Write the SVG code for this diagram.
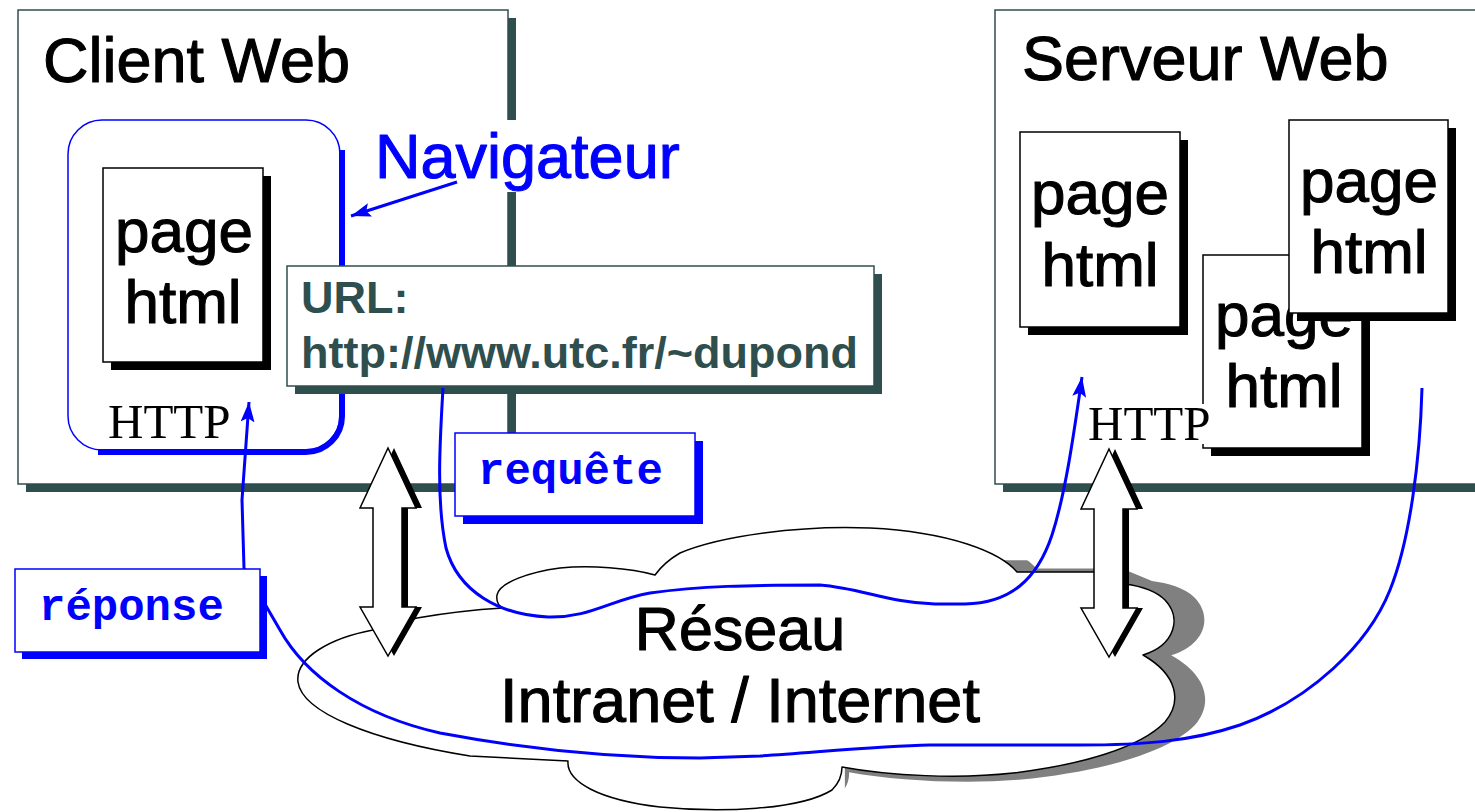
<svg xmlns="http://www.w3.org/2000/svg" width="1475" height="812" viewBox="0 0 1475 812">
  <defs>
    <style>
      .sans { font-family: "Liberation Sans", Arial, sans-serif; }
      .heavy { stroke-width: 1.1; stroke-linejoin: round; }
      .title { font-size: 63px; fill: #000; stroke: #000; }
      .page-txt { font-size: 62px; fill: #000; stroke: #000; text-anchor: middle; }
      .frame { fill: #fff; stroke: #2f4f4f; stroke-width: 1.5; }
      .frame-shadow { fill: #2f4f4f; }
      .page { fill: #fff; stroke: #000; stroke-width: 1.5; }
      .page-shadow { fill: #000; }
      .tag { fill: #fff; stroke: #0000ff; stroke-width: 1.5; }
      .tag-shadow { fill: #0000ff; }
      .tag-txt { font-family: "Liberation Mono", "Courier New", monospace; font-weight: bold; font-size: 44px; fill: #0000ff; }
      .http { font-family: "Liberation Serif", "Times New Roman", serif; font-size: 49px; fill: #000; }
      .flow { fill: none; stroke: #0000ff; stroke-width: 3; }
      .cloud { fill: #fff; stroke: #000; stroke-width: 1.5; stroke-linejoin: round; }
      .dbl { fill: #fff; stroke: #000; stroke-width: 1.5; stroke-linejoin: miter; }
    </style>
    <marker id="head" markerUnits="userSpaceOnUse" markerWidth="24" markerHeight="18" refX="20" refY="7" orient="auto">
      <path d="M0,0 L20,7 L0,14 L4,7 z" fill="#0000ff"/>
    </marker>
    <path id="cloud-shape" d="M 373 630 C 330 638, 295 658, 298 682 C 302 712, 370 740, 470 756 L 568 761 C 566 782, 600 800, 660 807 C 720 813, 800 810, 832 790 C 840 782, 842 775, 842 767 C 890 776, 960 779, 1013 773 C 1080 765, 1140 748, 1165 722 C 1182 702, 1178 675, 1143 655 C 1175 645, 1182 618, 1165 600 C 1155 590, 1140 586, 1125 584 L 1097 572 L 1017 572 C 1000 552, 950 532, 870 528 C 800 525, 720 536, 680 553 C 668 560, 660 568, 655 575 C 630 568, 590 565, 560 568 C 530 572, 500 582, 497 595 C 496 602, 499 606, 503 608 C 470 610, 440 614, 417 618 Z"/>
    <clipPath id="cloud-shadow-clip">
      <rect x="838" y="564" width="640" height="248"/>
    </clipPath>
    <polygon id="dbl-arrow" points="0,0 28,60 14,60 14,159 28,159 0,208 -28,159 -15,159 -15,60 -28,60"/>
  </defs>

  <rect x="0" y="0" width="1475" height="812" fill="#fff"/>

  <!-- client machine frame -->
  <g id="client-web">
    <rect class="frame-shadow" x="26" y="18" width="490" height="474"/>
    <rect class="frame" x="18" y="10" width="490" height="474"/>
    <text class="sans title heavy" x="43" y="82">Client Web</text>
  </g>

  <!-- server machine frame -->
  <g id="server-web">
    <rect class="frame-shadow" x="1003" y="18" width="500" height="474"/>
    <rect class="frame" x="995" y="10" width="500" height="474"/>
    <text class="sans title heavy" x="1022" y="80">Serveur Web</text>
  </g>

  <!-- network cloud with its grey drop shadow on the right -->
  <g id="network">
    <use href="#cloud-shape" fill="#808080" transform="translate(740 650) scale(1.07 1.045) translate(-740 -650)" clip-path="url(#cloud-shadow-clip)"/>
    <use href="#cloud-shape" class="cloud"/>
    <text class="sans heavy" x="740" y="650" font-size="61" text-anchor="middle" stroke="#000">Réseau</text>
    <text class="sans heavy" x="740" y="722" font-size="63" text-anchor="middle" stroke="#000">Intranet / Internet</text>
  </g>

  <!-- browser outline -->
  <g id="browser">
    <rect x="68" y="120" width="272" height="330" rx="34" fill="none" stroke="#0000ff" stroke-width="1.5"/>
    <path d="M 342 150 L 342 416 A 36 36 0 0 1 306 452 L 98 452" fill="none" stroke="#0000ff" stroke-width="6"/>
  </g>

  <g id="page-client">
    <rect class="page-shadow" x="111" y="176" width="160" height="194"/>
    <rect class="page" x="103" y="168" width="160" height="194"/>
    <text class="sans page-txt heavy" x="184" y="252">page</text>
    <text class="sans page-txt heavy" x="183" y="323">html</text>
  </g>

  <g id="navigateur-label">
    <rect x="372" y="120" width="322" height="72" fill="#fff"/>
    <text class="sans heavy" x="375" y="178" font-size="63" fill="#0000ff" stroke="#0000ff">Navigateur</text>
  </g>

  <g id="url">
    <rect class="frame-shadow" x="295" y="274" width="587" height="120"/>
    <rect class="frame" x="287" y="266" width="587" height="120"/>
    <text class="sans" x="301" y="313" font-size="45" font-weight="bold" fill="#2f4f4f">URL:</text>
    <text class="sans" x="301" y="368" font-size="45" font-weight="bold" fill="#2f4f4f">http://www.utc.fr/~dupond</text>
  </g>

  <g id="server-page-1">
    <rect class="page-shadow" x="1028" y="140" width="160" height="195"/>
    <rect class="page" x="1020" y="132" width="160" height="195"/>
    <text class="sans page-txt heavy" x="1100" y="214">page</text>
    <text class="sans page-txt heavy" x="1100" y="286">html</text>
  </g>

  <g id="server-page-2">
    <rect class="page-shadow" x="1211" y="263" width="159" height="193"/>
    <rect class="page" x="1203" y="255" width="159" height="193"/>
    <text class="sans page-txt heavy" x="1284" y="336">page</text>
    <text class="sans page-txt heavy" x="1284" y="407">html</text>
  </g>

  <g id="server-page-3">
    <rect class="page-shadow" x="1297" y="128" width="159" height="193"/>
    <rect class="page" x="1289" y="120" width="159" height="193"/>
    <text class="sans page-txt heavy" x="1369" y="202">page</text>
    <text class="sans page-txt heavy" x="1369" y="273">html</text>
  </g>

  <!-- flows between client, network and server -->
  <g id="connectors">
    <path class="flow" marker-end="url(#head)" d="M 457 182 L 351 216"/>
    <path id="request" class="flow" marker-end="url(#head)" d="M 443 388 C 440 440, 436 500, 446 548 C 458 592, 500 615, 548 617 C 590 618, 610 600, 650 593 C 700 586, 750 585, 820 585 C 860 588, 890 603, 935 604 L 965 604 C 1010 603, 1037 580, 1052 535 C 1065 495, 1073 440, 1082 377"/>
    <path id="response" class="flow" marker-end="url(#head)" d="M 1422 388 C 1420 460, 1410 540, 1390 590 C 1368 645, 1310 700, 1240 725 C 1190 742, 1140 745, 1080 745 L 930 745 C 880 746, 820 752, 760 756 L 700 758 C 610 758, 520 748, 440 733 C 360 715, 305 675, 280 630 L 244 568 L 242 500 L 249 402"/>
    <g id="link-client">
      <use href="#dbl-arrow" transform="translate(394,448)" fill="#000"/>
      <use href="#dbl-arrow" class="dbl" transform="translate(388,448)"/>
    </g>
    <g id="link-server">
      <use href="#dbl-arrow" transform="translate(1115,449)" fill="#000"/>
      <use href="#dbl-arrow" class="dbl" transform="translate(1109,449)"/>
    </g>
  </g>

  <g id="label-requete">
    <rect class="tag-shadow" x="463" y="441" width="240" height="83"/>
    <rect class="tag" x="455" y="433" width="240" height="83"/>
    <text class="tag-txt" x="478" y="484">requête</text>
  </g>

  <g id="label-reponse">
    <rect class="tag-shadow" x="22" y="576" width="245" height="83"/>
    <rect class="tag" x="15" y="569" width="245" height="83"/>
    <text class="tag-txt" x="39" y="620">réponse</text>
  </g>

  <g id="http-client">
    <text class="http" x="108" y="438">HTTP</text>
  </g>

  <g id="http-server">
    <rect x="1087" y="404" width="127" height="40" fill="#fff"/>
    <text class="http" x="1088" y="440">HTTP</text>
  </g>
</svg>
